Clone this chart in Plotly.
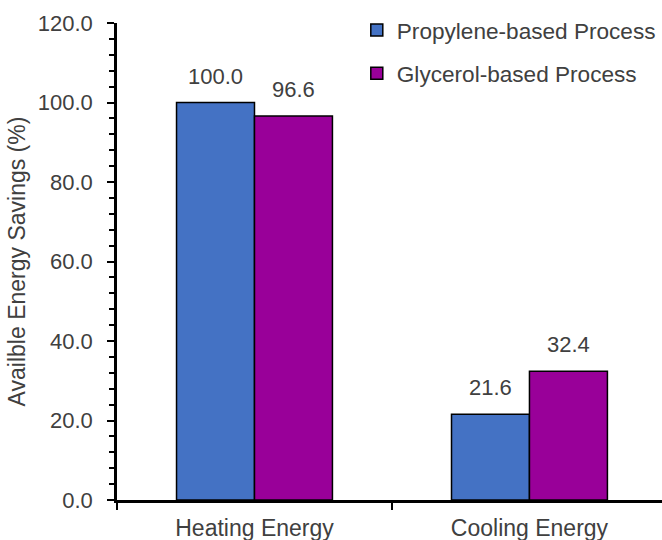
import plotly.graph_objects as go

categories = ["Heating Energy", "Cooling Energy"]
propylene = [100.0, 21.6]
glycerol = [96.6, 32.4]
series_names = ["Propylene-based Process", "Glycerol-based Process"]
y_ticks = [0, 20, 40, 60, 80, 100, 120]

text_color = "#404040"
font_family = "Liberation Sans, Arial, sans-serif"
bar_gap = 0.433
bar_w = (1 - bar_gap) / 2

fig = go.Figure()
series = [
    (series_names[0], propylene, "#4472C4", "a"),
    (series_names[1], glycerol, "#990099", "b"),
]
for k, (name, vals, color, grp) in enumerate(series):
    fig.add_trace(go.Bar(
        x=categories, y=vals, name=name, legendgroup=grp,
        marker=dict(color=color, line=dict(color="black", width=1.5)),
    ))
    # value labels above each bar
    offset = (k - 0.5) * bar_w
    for i, v in enumerate(vals):
        fig.add_annotation(
            x=i + offset, y=v, xref="x", yref="y", text=f"{v:.1f}",
            showarrow=False, yanchor="bottom", yshift=12,
            font=dict(size=22, color=text_color, family=font_family),
        )

fig.update_layout(
    width=662, height=540,
    margin=dict(l=117, r=0, t=23, b=40),
    paper_bgcolor="white", plot_bgcolor="white",
    barmode="group", bargap=bar_gap, bargroupgap=0,
    font=dict(family=font_family, color=text_color, size=22),
    showlegend=True,
    legend=dict(
        x=0.44, y=1.03, xanchor="left", yanchor="top",
        bgcolor="rgba(0,0,0,0)", font=dict(size=22.6, color=text_color),
        traceorder="grouped", tracegroupgap=11, itemwidth=30,
    ),
    xaxis=dict(
        range=[-0.5, 1.482], showline=True, linecolor="black", linewidth=2.5,
        ticks="outside", tickson="boundaries", ticklen=7, tickcolor="black",
        tickwidth=2, showgrid=False, ticklabelstandoff=6,
        tickfont=dict(size=23, color=text_color),
    ),
    yaxis=dict(
        range=[0, 120], tickvals=y_ticks, tickformat=".1f",
        showline=True, linecolor="black", linewidth=2.5,
        ticks="outside", ticklen=7, tickcolor="black", tickwidth=2,
        minor=dict(dtick=4, ticks="outside", ticklen=5, tickcolor="black", tickwidth=2),
        showgrid=False, zeroline=False, ticklabelstandoff=10,
        tickfont=dict(size=22, color=text_color),
        title=dict(text="Availble Energy Savings (%)", font=dict(size=23, color=text_color), standoff=6),
    ),
)

fig.write_html("out.html")
